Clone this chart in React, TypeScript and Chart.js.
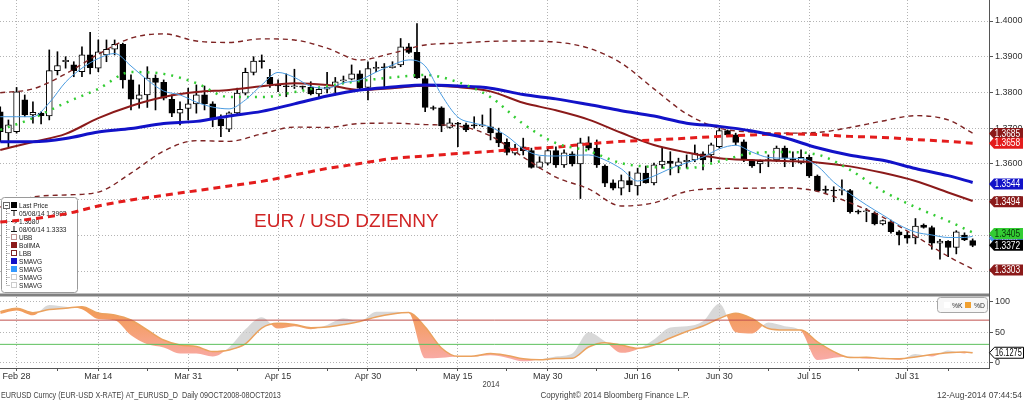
import React, { useEffect, useRef } from 'react';
import { Chart, registerables } from 'chart.js';

Chart.register(...registerables);

const SANS = '"Liberation Sans", Arial, sans-serif';

// ---------------- data ----------------
// trading-day index of the first candle (Feb 26, 2014); Feb 28 = 0
const FIRST_DAY = -2;

const OPEN = [
  1.3746, 1.3687, 1.3690, 1.3779, 1.3737, 1.3742, 1.3734, 1.3861, 1.3886, 1.3877,
  1.3858, 1.3905, 1.3868, 1.3905, 1.3921, 1.3935, 1.3835, 1.3781, 1.3793, 1.3840,
  1.3828, 1.3781, 1.3742, 1.3755, 1.3768, 1.3793, 1.3768, 1.3725, 1.3697, 1.3743,
  1.3798, 1.3856, 1.3889, 1.3842, 1.3820, 1.3818, 1.3816, 1.3816, 1.3814, 1.3796,
  1.3809, 1.3818, 1.3832, 1.3837, 1.3852, 1.3814, 1.3867, 1.3870, 1.3869, 1.3877,
  1.3928, 1.3912, 1.3839, 1.3756, 1.3757, 1.3702, 1.3714, 1.3709, 1.3709, 1.3706,
  1.3704, 1.3687, 1.3660, 1.3630, 1.3648, 1.3637, 1.3590, 1.3602, 1.3637, 1.3597,
  1.3628, 1.3600, 1.3659, 1.3644, 1.3594, 1.3547, 1.3532, 1.3553, 1.3538, 1.3574,
  1.3547, 1.3597, 1.3608, 1.3594, 1.3606, 1.3611, 1.3628, 1.3625, 1.3648, 1.3693,
  1.3681, 1.3662, 1.3611, 1.3600, 1.3609, 1.3611, 1.3644, 1.3613, 1.3603, 1.3618,
  1.3566, 1.3527, 1.3525, 1.3526, 1.3525, 1.3466, 1.3466, 1.3462, 1.3432, 1.3438,
  1.3410, 1.3401, 1.3393, 1.3429, 1.3422, 1.3378, 1.3383, 1.3366, 1.3401, 1.3385,
];
const HIGH = [
  1.3760, 1.3723, 1.3814, 1.3793, 1.3774, 1.3746, 1.3919, 1.3914, 1.3900, 1.3886,
  1.3928, 1.3968, 1.3947, 1.3947, 1.3947, 1.3938, 1.3849, 1.3821, 1.3872, 1.3849,
  1.3835, 1.3793, 1.3774, 1.3812, 1.3821, 1.3818, 1.3774, 1.3737, 1.3746, 1.3812,
  1.3868, 1.3900, 1.3905, 1.3865, 1.3835, 1.3852, 1.3865, 1.3818, 1.3830, 1.3814,
  1.3856, 1.3842, 1.3846, 1.3877, 1.3861, 1.3886, 1.3886, 1.3881, 1.3886, 1.3951,
  1.3937, 1.3993, 1.3846, 1.3762, 1.3760, 1.3727, 1.3716, 1.3714, 1.3732, 1.3737,
  1.3755, 1.3700, 1.3670, 1.3655, 1.3672, 1.3644, 1.3620, 1.3648, 1.3648, 1.3639,
  1.3634, 1.3672, 1.3676, 1.3667, 1.3597, 1.3555, 1.3569, 1.3578, 1.3588, 1.3594,
  1.3602, 1.3644, 1.3634, 1.3616, 1.3625, 1.3653, 1.3634, 1.3658, 1.3700, 1.3695,
  1.3686, 1.3667, 1.3613, 1.3611, 1.3625, 1.3650, 1.3650, 1.3634, 1.3639, 1.3625,
  1.3569, 1.3538, 1.3536, 1.3555, 1.3529, 1.3471, 1.3475, 1.3466, 1.3443, 1.3443,
  1.3413, 1.3410, 1.3447, 1.3432, 1.3426, 1.3389, 1.3385, 1.3413, 1.3407, 1.3390,
];
const LOW = [
  1.3662, 1.3648, 1.3686, 1.3732, 1.3714, 1.3712, 1.3723, 1.3849, 1.3868, 1.3844,
  1.3844, 1.3852, 1.3858, 1.3886, 1.3905, 1.3812, 1.3751, 1.3756, 1.3758, 1.3751,
  1.3779, 1.3732, 1.3709, 1.3723, 1.3742, 1.3751, 1.3704, 1.3676, 1.3690, 1.3737,
  1.3793, 1.3849, 1.3868, 1.3814, 1.3802, 1.3788, 1.3811, 1.3809, 1.3793, 1.3788,
  1.3799, 1.3793, 1.3826, 1.3835, 1.3807, 1.3779, 1.3858, 1.3814, 1.3868, 1.3872,
  1.3909, 1.3839, 1.3746, 1.3751, 1.3690, 1.3700, 1.3648, 1.3690, 1.3700, 1.3704,
  1.3667, 1.3648, 1.3625, 1.3625, 1.3625, 1.3588, 1.3588, 1.3597, 1.3590, 1.3590,
  1.3594, 1.3503, 1.3639, 1.3590, 1.3536, 1.3527, 1.3513, 1.3522, 1.3513, 1.3546,
  1.3541, 1.3588, 1.3569, 1.3575, 1.3588, 1.3606, 1.3583, 1.3606, 1.3644, 1.3676,
  1.3653, 1.3606, 1.3590, 1.3575, 1.3592, 1.3606, 1.3592, 1.3592, 1.3600, 1.3562,
  1.3522, 1.3519, 1.3494, 1.3513, 1.3462, 1.3460, 1.3438, 1.3429, 1.3429, 1.3406,
  1.3373, 1.3378, 1.3376, 1.3420, 1.3361, 1.3333, 1.3340, 1.3348, 1.3385, 1.3368,
];
const CLOSE = [
  1.3690, 1.3709, 1.3802, 1.3737, 1.3744, 1.3735, 1.3861, 1.3875, 1.3890, 1.3861,
  1.3905, 1.3869, 1.3914, 1.3921, 1.3935, 1.3835, 1.3781, 1.3793, 1.3840, 1.3828,
  1.3784, 1.3742, 1.3753, 1.3768, 1.3793, 1.3768, 1.3726, 1.3706, 1.3743, 1.3798,
  1.3856, 1.3888, 1.3886, 1.3824, 1.3818, 1.3816, 1.3817, 1.3815, 1.3796, 1.3809,
  1.3815, 1.3830, 1.3835, 1.3852, 1.3812, 1.3867, 1.3870, 1.3869, 1.3874, 1.3928,
  1.3912, 1.3841, 1.3758, 1.3755, 1.3706, 1.3715, 1.3711, 1.3695, 1.3706, 1.3709,
  1.3687, 1.3659, 1.3632, 1.3644, 1.3637, 1.3590, 1.3606, 1.3637, 1.3597, 1.3631,
  1.3600, 1.3659, 1.3644, 1.3597, 1.3546, 1.3532, 1.3553, 1.3541, 1.3575, 1.3547,
  1.3597, 1.3608, 1.3601, 1.3606, 1.3610, 1.3630, 1.3611, 1.3653, 1.3693, 1.3681,
  1.3660, 1.3611, 1.3594, 1.3607, 1.3611, 1.3644, 1.3616, 1.3611, 1.3618, 1.3566,
  1.3525, 1.3526, 1.3524, 1.3527, 1.3466, 1.3465, 1.3467, 1.3432, 1.3441, 1.3410,
  1.3401, 1.3392, 1.3426, 1.3422, 1.3378, 1.3384, 1.3366, 1.3410, 1.3387, 1.3372,
];

// slow studies, read every 4 trading days
const SLOW_IDX = [-2, 2, 6, 10, 14, 18, 22, 26, 30, 34, 38, 42, 46, 50, 54, 58, 62, 66, 70, 74, 78, 82, 86, 90, 94, 98, 102, 106, 110, 114, 117];
const SMA_BLUE = [1.3662, 1.3662, 1.3671, 1.3689, 1.3699, 1.3713, 1.3719, 1.3734, 1.3747, 1.3768, 1.3790, 1.3807, 1.3815, 1.3821, 1.3818, 1.3812, 1.3794, 1.3782, 1.3766, 1.3749, 1.3734, 1.3714, 1.3705, 1.3692, 1.3673, 1.3645, 1.3624, 1.3610, 1.3587, 1.3567, 1.3548];
const SMA_RED = [1.3437, 1.3446, 1.3460, 1.3482, 1.3499, 1.3512, 1.3525, 1.3538, 1.3551, 1.3569, 1.3587, 1.3601, 1.3615, 1.3622, 1.3629, 1.3635, 1.3642, 1.3647, 1.3656, 1.3663, 1.3667, 1.3672, 1.3677, 1.3681, 1.3684, 1.3682, 1.3677, 1.3674, 1.3668, 1.3663, 1.3658];
const BOLL_MA = [1.3639, 1.3661, 1.3684, 1.3728, 1.3762, 1.3787, 1.3801, 1.3807, 1.3817, 1.3826, 1.3821, 1.3807, 1.3812, 1.3819, 1.3815, 1.3803, 1.3771, 1.3750, 1.3724, 1.3687, 1.3653, 1.3632, 1.3616, 1.3611, 1.3608, 1.3604, 1.3593, 1.3575, 1.3552, 1.3520, 1.3496];
const UBB = [1.3799, 1.3810, 1.3852, 1.3907, 1.3952, 1.3964, 1.3944, 1.3940, 1.3950, 1.3947, 1.3924, 1.3891, 1.3910, 1.3933, 1.3938, 1.3943, 1.3944, 1.3941, 1.3924, 1.3882, 1.3810, 1.3740, 1.3700, 1.3689, 1.3686, 1.3688, 1.3702, 1.3720, 1.3735, 1.3723, 1.3686];
const LBB = [1.3479, 1.3507, 1.3513, 1.3521, 1.3574, 1.3636, 1.3665, 1.3663, 1.3684, 1.3703, 1.3702, 1.3713, 1.3714, 1.3710, 1.3706, 1.3678, 1.3619, 1.3563, 1.3530, 1.3482, 1.3491, 1.3523, 1.3531, 1.3532, 1.3533, 1.3523, 1.3491, 1.3451, 1.3398, 1.3341, 1.3306];
const SMA_GREEN = [1.3695, 1.3728, 1.3771, 1.3810, 1.3857, 1.3852, 1.3826, 1.3787, 1.3787, 1.3801, 1.3818, 1.3832, 1.3842, 1.3849, 1.3829, 1.3787, 1.3712, 1.3658, 1.3636, 1.3602, 1.3591, 1.3588, 1.3607, 1.3630, 1.3633, 1.3626, 1.3583, 1.3524, 1.3479, 1.3440, 1.3408];

// fast studies, read every 2 trading days
const FAST_IDX = [-2, 0, 2, 4, 6, 8, 10, 12, 14, 16, 18, 20, 22, 24, 26, 28, 30, 32, 34, 36, 38, 40, 42, 44, 46, 48, 50, 52, 54, 56, 58, 60, 62, 64, 66, 68, 70, 72, 74, 76, 78, 80, 82, 84, 86, 88, 90, 92, 94, 96, 98, 100, 102, 104, 106, 108, 110, 112, 114, 116, 117];
const SMA_LIGHT = [
  1.3732, 1.3732, 1.3732, 1.3771, 1.3829, 1.3868, 1.3895, 1.3909, 1.3874, 1.3835,
  1.3804, 1.3793, 1.3773, 1.3759, 1.3754, 1.3779, 1.3821, 1.3856, 1.3842, 1.3817,
  1.3812, 1.3827, 1.3835, 1.3857, 1.3877, 1.3891, 1.3874, 1.3793, 1.3731, 1.3714,
  1.3703, 1.3678, 1.3642, 1.3624, 1.3622, 1.3624, 1.3625, 1.3611, 1.3586, 1.3552,
  1.3566, 1.3587, 1.3603, 1.3619, 1.3642, 1.3652, 1.3633, 1.3618, 1.3616, 1.3615,
  1.3594, 1.3549, 1.3516, 1.3485, 1.3457, 1.3429, 1.3409, 1.3401, 1.3394, 1.3394,
  1.3397,
];
const STOCH_K = [
  80, 86, 78, 95, 92, 88, 72, 70, 45, 30,
  25, 15, 15, 10, 25, 55, 75, 56, 60, 55,
  62, 73, 68, 84, 84, 82, 7, 8, 10, 10,
  12, 8, 2, 5, 10, 15, 50, 35, 16, 22,
  38, 58, 60, 68, 97, 50, 48, 66, 60, 52,
  4, 8, 10, 6, 8, 4, 14, 10, 20, 15,
  18,
];
const STOCH_D = [
  84, 89.6, 82.3, 87.6, 89.6, 92.2, 81.8, 78.5, 70.2, 53.7,
  37.2, 28.9, 26.4, 18.2, 20.7, 30.6, 57, 64.8, 62.8, 57.5,
  58.7, 62.8, 67.8, 75.2, 80.2, 82.6, 58.7, 24, 10.2, 10.7,
  14.9, 11.6, 6.1, 4.5, 6.6, 6.9, 25.6, 32.7, 28.9, 23.5,
  28.9, 40.5, 51.2, 60.3, 72.7, 81.3, 72.7, 56.2, 53.7, 53.7,
  33.9, 17.9, 8.3, 8.6, 6.6, 6.1, 9.1, 13.2, 16.2, 17.4,
  16.1,
];
const STOCH_LEVELS = [70, 30];

const X_TICK_IDX = [0, 10, 21, 32, 43, 54, 65, 76, 86, 97, 109];
const X_TICK_LABELS = ['Feb 28', 'Mar 14', 'Mar 31', 'Apr 15', 'Apr 30', 'May 15', 'May 30', 'Jun 16', 'Jun 30', 'Jul 15', 'Jul 31'];
const X_MINOR_IDX = [5, 16, 27, 38, 49, 60, 71, 81, 92, 103, 114];
const PRICE_TICKS = [1.33, 1.34, 1.35, 1.36, 1.37, 1.38, 1.39, 1.40];
const PRICE_MINOR = [1.335, 1.345, 1.355, 1.365, 1.375, 1.385, 1.395];
const STOCH_TICKS = [0, 50, 100];

// right-hand value tags (last values of each study), drawn in this order
const PRICE_TAGS = [1.3685, 1.3658, 1.3544, 1.3494, 1.3392, 1.3405, 1.3372, 1.3303];
const PRICE_TAG_FILL = ['#8b1a1a', '#e41c1c', '#1212c8', '#8b1a1a', '#4a9be0', '#33cc33', '#000000', '#8b1a1a'];
const PRICE_TAG_TEXT = ['#ffffff', '#ffffff', '#ffffff', '#ffffff', '#ffffff', '#0a3a0a', '#ffffff', '#ffffff'];
const STOCH_TAG = 16.1275;

const LEGEND_LABELS = ['Last Price', '05/08/14 1.3993', '1.3680', '08/06/14 1.3333', 'UBB', 'BollMA', 'LBB', 'SMAVG', 'SMAVG', 'SMAVG', 'SMAVG'];
const TITLE = 'EUR / USD DZIENNY';
const YEAR_LABEL = '2014';
const FOOTER_LEFT = 'EURUSD Curncy (EUR-USD X-RATE) AT_EURUSD_D  Daily 09OCT2008-08OCT2013';
const FOOTER_MID = 'Copyright\u00a9 2014 Bloomberg Finance L.P.';
const FOOTER_RIGHT = '12-Aug-2014 07:44:54';

// ---------------- styling ----------------
const X_MIN = -2.03;
const X_MAX = 119;
const C_BAND = '#7e2424';
const C_BOLL = '#8b1a1a';
const C_BLUE = '#1212c8';
const C_RED = '#e41c1c';
const C_GREEN = '#33cc33';
const C_LIGHT = '#4a9be0';
const GRID = '#b4b4b4';
const LBB_DS = 4;
const K_DS = 9;

function roundRect(ctx: CanvasRenderingContext2D, x: number, y: number, w: number, h: number, r: number) {
  ctx.beginPath();
  ctx.moveTo(x + r, y);
  ctx.lineTo(x + w - r, y);
  ctx.quadraticCurveTo(x + w, y, x + w, y + r);
  ctx.lineTo(x + w, y + h - r);
  ctx.quadraticCurveTo(x + w, y + h, x + w - r, y + h);
  ctx.lineTo(x + r, y + h);
  ctx.quadraticCurveTo(x, y + h, x, y + h - r);
  ctx.lineTo(x, y + r);
  ctx.quadraticCurveTo(x, y, x + r, y);
  ctx.closePath();
}

// text drawn with a horizontal squeeze to imitate the condensed terminal font
function narrowText(ctx: CanvasRenderingContext2D, text: string, x: number, y: number, sx: number) {
  ctx.save();
  ctx.translate(x, y);
  ctx.scale(sx, 1);
  ctx.fillText(text, 0, 0);
  ctx.restore();
}

function drawTag(ctx: CanvasRenderingContext2D, x: number, y: number, fill: string, stroke: string | null, text: string, color: string, squeeze = 0.84) {
  const w = 34, h = 11;
  ctx.beginPath();
  ctx.moveTo(x, y);
  ctx.lineTo(x + 5, y - h / 2);
  ctx.lineTo(x + w, y - h / 2);
  ctx.lineTo(x + w, y + h / 2);
  ctx.lineTo(x + 5, y + h / 2);
  ctx.closePath();
  ctx.fillStyle = fill;
  ctx.fill();
  if (stroke) {
    ctx.strokeStyle = stroke;
    ctx.lineWidth = 1;
    ctx.stroke();
  }
  ctx.fillStyle = color;
  ctx.font = `10px ${SANS}`;
  ctx.textAlign = 'left';
  ctx.textBaseline = 'middle';
  narrowText(ctx, text, x + 5.5, y + 0.5, squeeze);
}

function drawLegend(ctx: CanvasRenderingContext2D) {
  ctx.save();
  roundRect(ctx, 1.5, 197.5, 76, 95, 3);
  ctx.fillStyle = '#ffffff';
  ctx.fill();
  ctx.strokeStyle = '#9a9a9a';
  ctx.lineWidth = 1;
  ctx.stroke();
  const rowY = (r: number) => 205 + 8 * r;
  ctx.strokeStyle = '#8a8a8a';
  ctx.setLineDash([1, 1]);
  ctx.beginPath();
  ctx.moveTo(6.5, 209);
  ctx.lineTo(6.5, rowY(10));
  for (let r = 1; r < LEGEND_LABELS.length; r++) {
    ctx.moveTo(6.5, rowY(r) + 0.5);
    ctx.lineTo(10, rowY(r) + 0.5);
  }
  ctx.stroke();
  ctx.setLineDash([]);
  ctx.strokeStyle = '#666';
  ctx.strokeRect(3.5, 202.5, 6, 6);
  ctx.beginPath();
  ctx.moveTo(5, 205.5);
  ctx.lineTo(8, 205.5);
  ctx.stroke();
  const sq = (r: number, fill: string, stroke: string, dash?: number[]) => {
    const y = rowY(r) - 3;
    ctx.fillStyle = fill;
    ctx.fillRect(11, y, 6, 6);
    ctx.strokeStyle = stroke;
    ctx.setLineDash(dash || []);
    ctx.strokeRect(11.5, y + 0.5, 5, 5);
    ctx.setLineDash([]);
  };
  sq(0, '#000', '#000');
  ctx.strokeStyle = '#111';
  ctx.lineWidth = 1;
  ctx.beginPath();
  ctx.moveTo(11, rowY(1) - 2.5); ctx.lineTo(17, rowY(1) - 2.5);
  ctx.moveTo(14, rowY(1) - 2.5); ctx.lineTo(14, rowY(1) + 3);
  ctx.moveTo(11, rowY(2) + 0.5); ctx.lineTo(17, rowY(2) + 0.5);
  ctx.moveTo(15, rowY(2) - 1.5); ctx.lineTo(17, rowY(2) + 0.5); ctx.lineTo(15, rowY(2) + 2.5);
  ctx.moveTo(14, rowY(3) - 3); ctx.lineTo(14, rowY(3) + 2.5);
  ctx.moveTo(11, rowY(3) + 2.5); ctx.lineTo(17, rowY(3) + 2.5);
  ctx.stroke();
  sq(4, '#fff', C_BAND, [1, 1]);
  sq(5, C_BOLL, C_BOLL);
  sq(6, '#fff', C_BAND);
  sq(7, C_BLUE, C_BLUE);
  sq(8, '#3399ff', '#3399ff');
  sq(9, '#fff', '#999', [1, 1]);
  sq(10, '#fff', '#999', [1, 1]);
  ctx.fillStyle = '#222';
  ctx.font = `8px ${SANS}`;
  ctx.textAlign = 'left';
  ctx.textBaseline = 'middle';
  LEGEND_LABELS.forEach((t, r) => narrowText(ctx, t, 19, rowY(r) + 0.5, 0.82));
  ctx.restore();
}

const overlay = {
  id: 'overlay',
  afterLayout(chart: any) {
    const ys = chart.scales.ys;
    const g = chart.ctx.createLinearGradient(0, ys.getPixelForValue(100), 0, ys.getPixelForValue(0));
    g.addColorStop(0, '#f39a50');
    g.addColorStop(0.45, '#f5a071');
    g.addColorStop(1, '#f9abab');
    chart.data.datasets[K_DS].fill = { target: '+1', above: 'rgba(200,200,200,0.7)', below: g };
  },
  afterDatasetDraw(chart: any, args: any) {
    if (args.index === LBB_DS) drawLegend(chart.ctx);
  },
  afterDraw(chart: any) {
    const ctx: CanvasRenderingContext2D = chart.ctx;
    const y = chart.scales.y;
    const ys = chart.scales.ys;
    const area = chart.chartArea;
    ctx.save();
    ctx.fillStyle = '#808080';
    ctx.fillRect(area.left, ys.top - 1.5, area.right - area.left, 3);
    ctx.fillStyle = '#d02424';
    ctx.font = `19px ${SANS}`;
    ctx.textAlign = 'left';
    ctx.textBaseline = 'middle';
    ctx.fillText(TITLE, 254, 222);
    PRICE_TAGS.forEach((v, k) => {
      drawTag(ctx, area.right, y.getPixelForValue(v), PRICE_TAG_FILL[k], null, v.toFixed(4), PRICE_TAG_TEXT[k]);
    });
    drawTag(ctx, area.right + 0.5, ys.getPixelForValue(STOCH_TAG), '#ffffff', '#000000', STOCH_TAG.toFixed(4), '#000000', 0.74);
    roundRect(ctx, 937.5, 297.5, 50, 15, 3);
    ctx.fillStyle = '#f7f7f7';
    ctx.fill();
    ctx.strokeStyle = '#a8a8a8';
    ctx.lineWidth = 1;
    ctx.stroke();
    ctx.fillStyle = '#ffffff';
    ctx.fillRect(944, 302, 6, 6);
    ctx.fillStyle = '#f0a030';
    ctx.fillRect(965, 302, 6, 6);
    ctx.fillStyle = '#333';
    ctx.font = `8px ${SANS}`;
    ctx.textAlign = 'left';
    ctx.textBaseline = 'middle';
    narrowText(ctx, '%K', 952, 305.5, 0.85);
    narrowText(ctx, '%D', 974, 305.5, 0.85);
    ctx.fillStyle = '#444';
    ctx.font = `9px ${SANS}`;
    ctx.textAlign = 'center';
    narrowText(ctx, YEAR_LABEL, 491, 385, 0.85);
    ctx.textAlign = 'left';
    narrowText(ctx, FOOTER_LEFT, 1, 395.5, 0.8);
    ctx.textAlign = 'center';
    narrowText(ctx, FOOTER_MID, 615, 395.5, 0.9);
    ctx.textAlign = 'right';
    narrowText(ctx, FOOTER_RIGHT, 1022, 395.5, 0.95);
    ctx.restore();
  },
};

export default function App() {
  const ref = useRef<HTMLCanvasElement>(null);

  useEffect(() => {
    document.body.style.margin = '0';
    const canvas = ref.current;
    if (!canvas) return;

    const pts = (xs: number[], vs: number[]) => xs.map((x, k) => ({ x, y: vs[k] }));
    const bodies = OPEN.map((o, k) => ({ x: FIRST_DAY + k, y: [o, CLOSE[k]] }));
    const wicks = HIGH.map((h, k) => ({ x: FIRST_DAY + k, y: [LOW[k], h] }));
    const bodyFill = OPEN.map((o, k) => (CLOSE[k] >= o ? '#ffffff' : '#000000'));

    const line = (data: any[], color: string, width: number, dash: number[], order: number, axis = 'y') => ({
      type: 'line' as const,
      data,
      yAxisID: axis,
      borderColor: color,
      borderWidth: width,
      borderDash: dash,
      pointRadius: 0,
      fill: false,
      cubicInterpolationMode: 'monotone' as const,
      order,
    });

    const gridDash = [1, 2];

    const chart = new Chart(canvas, {
      type: 'bar',
      data: {
        datasets: [
          { type: 'bar', data: wicks as any, yAxisID: 'y', backgroundColor: '#000', barThickness: 1, grouped: false, order: 20, borderWidth: 0 } as any,
          { type: 'bar', data: bodies as any, yAxisID: 'y', backgroundColor: bodyFill, borderColor: '#000', borderWidth: 1, borderSkipped: false, barThickness: 6, minBarLength: 1, grouped: false, order: 19 } as any,
          line(pts(SLOW_IDX, UBB), C_BAND, 1.4, [5, 4], 18),
          line(pts(SLOW_IDX, BOLL_MA), C_BOLL, 2, [], 17),
          line(pts(SLOW_IDX, LBB), C_BAND, 1.4, [5, 4], 16),
          line(pts(SLOW_IDX, SMA_RED), C_RED, 3, [7, 5], 15),
          line(pts(SLOW_IDX, SMA_BLUE), C_BLUE, 3, [], 14),
          line(pts(SLOW_IDX, SMA_GREEN), C_GREEN, 2.5, [2, 6], 13),
          line(pts(FAST_IDX, SMA_LIGHT), C_LIGHT, 1, [], 12),
          { ...line(pts(FAST_IDX, STOCH_K), 'rgba(0,0,0,0)', 0, [], 11, 'ys'), fill: { target: '+1', above: 'rgba(200,200,200,0.7)', below: '#f6a27a' } },
          line(pts(FAST_IDX, STOCH_D), '#eba25e', 1.5, [], 10, 'ys'),
          { ...line([{ x: X_MIN, y: STOCH_LEVELS[0] }, { x: X_MAX, y: STOCH_LEVELS[0] }], '#c0504d', 1, [], 9, 'ys'), cubicInterpolationMode: 'default' },
          { ...line([{ x: X_MIN, y: STOCH_LEVELS[1] }, { x: X_MAX, y: STOCH_LEVELS[1] }], '#5cc05c', 1, [], 8, 'ys'), cubicInterpolationMode: 'default' },
        ] as any,
      },
      options: {
        responsive: false,
        animation: false,
        devicePixelRatio: 1,
        events: [],
        layout: { padding: 0, autoPadding: false } as any,
        plugins: {
          legend: { display: false },
          tooltip: { enabled: false },
          title: { display: false },
        },
        scales: {
          x: {
            type: 'linear',
            min: X_MIN,
            max: X_MAX,
            offset: false,
            afterFit: (s: any) => { s.height = 33; s.paddingLeft = 0; s.paddingRight = 0; },
            afterBuildTicks: (s: any) => {
              s.ticks = [...X_TICK_IDX, ...X_MINOR_IDX].sort((a, b) => a - b).map((v) => ({ value: v }));
            },
            ticks: {
              autoSkip: false,
              maxRotation: 0,
              minRotation: 0,
              padding: 0,
              color: '#333',
              font: { family: SANS, size: 9 },
              callback: (v: any) => {
                const k = X_TICK_IDX.indexOf(Number(v));
                return k >= 0 ? X_TICK_LABELS[k] : '';
              },
            },
            grid: {
              offset: false,
              color: (c: any) => (c.tick && X_TICK_IDX.includes(c.tick.value) ? GRID : 'rgba(0,0,0,0)'),
              lineWidth: 1,
              tickColor: '#555',
              tickLength: 3,
              tickBorderDash: [],
            },
            border: { display: true, color: '#555', width: 1, dash: gridDash },
          } as any,
          y: {
            type: 'linear',
            position: 'right',
            stack: 'panels',
            stackWeight: 295,
            min: 1.32329,
            max: 1.40588,
            afterFit: (s: any) => { s.width = 35; s.paddingTop = 0; s.paddingBottom = 0; },
            afterBuildTicks: (s: any) => {
              s.ticks = [...PRICE_TICKS, ...PRICE_MINOR].sort((a, b) => a - b).map((v) => ({ value: v }));
            },
            ticks: {
              padding: 2,
              color: '#333',
              font: { family: SANS, size: 9 },
              callback: (v: any) => (PRICE_TICKS.some((t) => Math.abs(t - v) < 1e-6) ? Number(v).toFixed(4) : ''),
            },
            grid: {
              color: (c: any) => (c.tick && PRICE_TICKS.some((t) => Math.abs(t - c.tick.value) < 1e-6) ? GRID : 'rgba(0,0,0,0)'),
              tickColor: '#555',
              tickLength: 4,
              tickBorderDash: [],
            },
            border: { display: true, color: '#555', width: 1, dash: gridDash },
          } as any,
          ys: {
            type: 'linear',
            position: 'right',
            stack: 'panels',
            stackWeight: 73,
            min: -9.09,
            max: 111.57,
            afterFit: (s: any) => { s.width = 35; s.paddingTop = 0; s.paddingBottom = 0; },
            afterBuildTicks: (s: any) => {
              s.ticks = STOCH_TICKS.map((v) => ({ value: v }));
            },
            ticks: {
              padding: 2,
              color: '#333',
              font: { family: SANS, size: 9 },
              callback: (v: any) => String(v),
            },
            grid: {
              color: GRID,
              tickColor: '#555',
              tickLength: 4,
              tickBorderDash: [],
            },
            border: { display: true, color: '#555', width: 1, dash: gridDash },
          } as any,
        },
      },
      plugins: [overlay],
    });

    return () => chart.destroy();
  }, []);

  return (
    <div style={{ position: 'absolute', left: 0, top: 0, width: 1024, height: 401, background: '#ffffff' }}>
      <canvas ref={ref} width={1024} height={401} style={{ display: 'block', width: 1024, height: 401 }} />
    </div>
  );
}
